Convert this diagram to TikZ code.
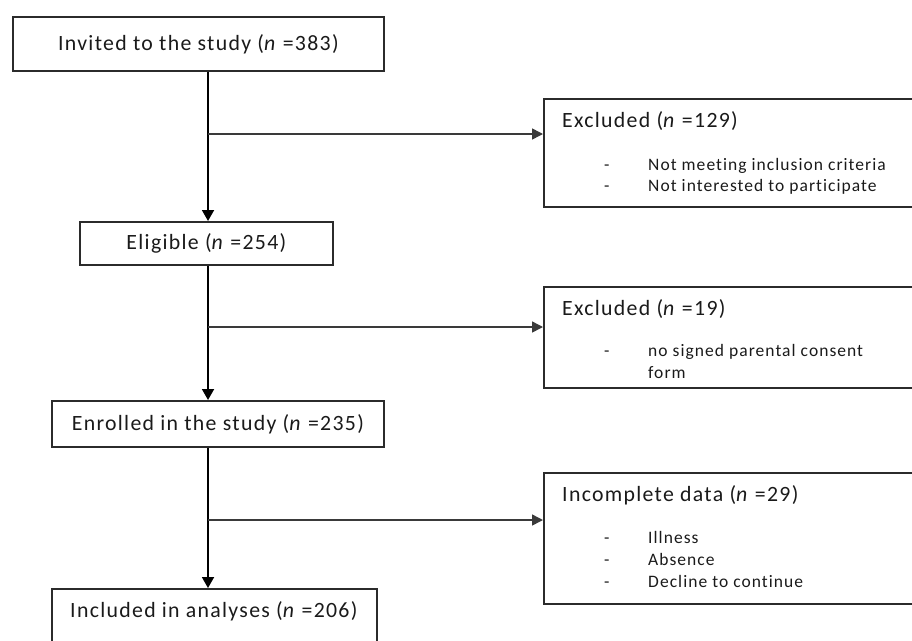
\documentclass[tikz,border=0pt]{standalone}
\usepackage{fontspec}
\setmainfont{Carlito}
\usetikzlibrary{arrows.meta}
\definecolor{boxline}{HTML}{2B2B2B}
\definecolor{txt}{HTML}{1A1A1A}
\definecolor{branchc}{HTML}{3A3A3A}
\newfontfamily\titlefont[LetterSpace=6,Ligatures=NoCommon]{Carlito}
\newfontfamily\itemfont[LetterSpace=6,Ligatures=NoCommon]{Carlito}
\tikzset{
  mainbox/.style={draw=boxline, line width=1.8pt, anchor=north west, inner sep=0pt, text=txt, font=\titlefont\fontsize{21.8}{26}\selectfont},
  sidebox/.style={draw=boxline, line width=1.8pt, anchor=north west, inner sep=0pt},
  title/.style={anchor=base west, inner sep=0pt, text=txt, font=\titlefont\fontsize{21.8}{26}\selectfont},
  item/.style={anchor=base west, inner sep=0pt, text=txt, font=\itemfont\fontsize{17.5}{20}\selectfont},
  trunk/.style={draw=black, line width=1.8pt, -{Triangle[length=11pt,width=12pt]}},
  branch/.style={draw=branchc, line width=1.5pt, -{Triangle[length=11pt,width=11pt]}}
}
\begin{document}
\begin{tikzpicture}[x=1pt,y=-1pt]
\useasboundingbox (0,0) rectangle (912,640);
\clip (0,0) rectangle (912,640);
% left column
\node[mainbox, minimum width=371pt, minimum height=54pt] (b1) at (12,16) {Invited to the study (\textit{n} =383)};
\node[mainbox, minimum width=253pt, minimum height=43pt] (b2) at (79,221) {Eligible (\textit{n} =254)};
\node[mainbox, minimum width=332pt, minimum height=46pt] (b3) at (51,400) {Enrolled in the study (\textit{n} =235)};
\node[sidebox, minimum width=325pt, minimum height=70pt] (b4) at (51,588) {};
\node[title] (b4t) at (70,617) {Included in analyses (\textit{n} =206)};
% right column
\node[sidebox, minimum width=380pt, minimum height=108pt] (x1) at (543,98) {};
\node[title] (x1t) at (562,127.5) {Excluded (\textit{n} =129)};
\node[item] (x1d1) at (604,170) {-};
\node[item] (x1a) at (648,170) {Not meeting inclusion criteria};
\node[item] (x1d2) at (604,191.5) {-};
\node[item] (x1b) at (648,191.5) {Not interested to participate};

\node[sidebox, minimum width=380pt, minimum height=101pt] (x2) at (543,286) {};
\node[title] (x2t) at (562,315) {Excluded (\textit{n} =19)};
\node[item] (x2d1) at (604,356) {-};
\node[item] (x2a) at (648,356) {no signed parental consent};
\node[item] (x2b) at (648,378) {form};

\node[sidebox, minimum width=380pt, minimum height=131pt] (x3) at (543,472) {};
\node[title] (x3t) at (562,501) {Incomplete data (\textit{n} =29)};
\node[item] (x3d1) at (604,543) {-};
\node[item] (x3a) at (648,543) {Illness};
\node[item] (x3d2) at (604,565) {-};
\node[item] (x3b) at (648,565) {Absence};
\node[item] (x3d3) at (604,587) {-};
\node[item] (x3c) at (648,587) {Decline to continue};
% trunk junctions
\coordinate (j1) at (208,134);
\coordinate (j2) at (208,327);
\coordinate (j3) at (208,520);
% connectors
\draw[trunk] (b1.south -| j1) -- (b2.north -| j1);
\draw[trunk] (b2.south -| j2) -- (b3.north -| j2);
\draw[trunk] (b3.south -| j3) -- (b4.north -| j3);
\draw[branch] (j1) -- (j1 -| x1.west);
\draw[branch] (j2) -- (j2 -| x2.west);
\draw[branch] (j3) -- (j3 -| x3.west);
\end{tikzpicture}
\end{document}
